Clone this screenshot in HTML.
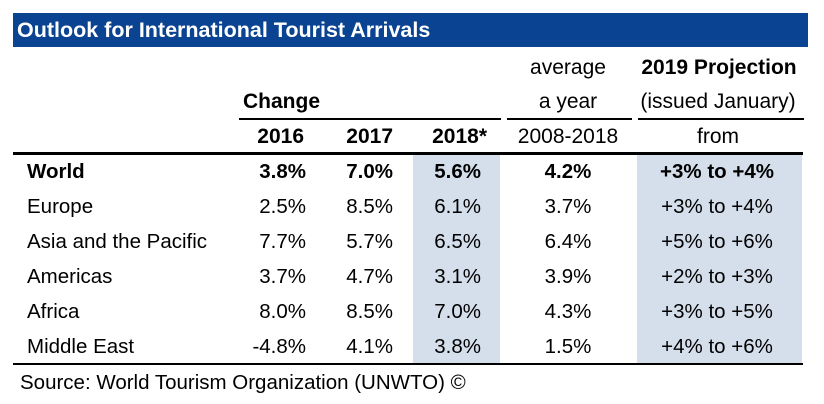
<!DOCTYPE html>
<html><head><meta charset="utf-8"><style>
body{margin:0;background:#fff;width:824px;height:404px;position:relative;overflow:hidden;font-family:"Liberation Sans",Arial,sans-serif;color:#000}
.a{position:absolute;white-space:nowrap;font-size:20.5px;line-height:22px}
.b{font-weight:bold}
.r{transform:translateX(-100%)}
.c{transform:translateX(-50%)}
.ln{position:absolute;background:#000}
.sh{position:absolute;background:#d5dfec}
</style></head><body>
<div style="position:absolute;left:13px;top:13px;width:795px;height:34px;background:#0a4391"></div>
<div class="a b" style="left:17px;top:18px;color:#fff;font-size:21.5px;line-height:24px">Outlook for International Tourist Arrivals</div>

<div class="sh" style="left:413px;top:155px;width:87px;height:208px"></div>
<div class="sh" style="left:637px;top:155px;width:165px;height:208px"></div>

<div class="a c" style="left:568px;top:57px;font-size:21px">average</div>
<div class="a b c" style="left:719px;top:57px;font-size:21px">2019 Projection</div>
<div class="a b" style="left:243px;top:91px;font-size:21px">Change</div>
<div class="a c" style="left:568px;top:91px;font-size:21px">a year</div>
<div class="a c" style="left:718px;top:91px;font-size:21px">(issued January)</div>
<div class="ln" style="left:239px;top:118px;width:262px;height:2px"></div>
<div class="ln" style="left:507px;top:118px;width:125px;height:2px"></div>
<div class="ln" style="left:638px;top:118px;width:166px;height:2px"></div>
<div class="a b r" style="left:304px;top:126px;font-size:21px">2016</div>
<div class="a b r" style="left:393px;top:126px;font-size:21px">2017</div>
<div class="a b r" style="left:487px;top:126px;font-size:21px">2018*</div>
<div class="a c" style="left:568px;top:126px;font-size:21px">2008-2018</div>
<div class="a c" style="left:718px;top:126px;font-size:21px">from</div>
<div class="ln" style="left:13px;top:152px;width:790px;height:3px"></div>
<div class="ln" style="left:13px;top:363px;width:790px;height:2px"></div>
<div class="a" style="left:20px;top:372px">Source: World Tourism Organization (UNWTO) ©</div>
<div id="rows"></div>
<script>
const regions=["World","Europe","Asia and the Pacific","Americas","Africa","Middle East"];
const v2016=["3.8%","2.5%","7.7%","3.7%","8.0%","-4.8%"];
const v2017=["7.0%","8.5%","5.7%","4.7%","8.5%","4.1%"];
const v2018=["5.6%","6.1%","6.5%","3.1%","7.0%","3.8%"];
const vAvg=["4.2%","3.7%","6.4%","3.9%","4.3%","1.5%"];
const vProj=["+3% to +4%","+3% to +4%","+5% to +6%","+2% to +3%","+3% to +5%","+4% to +6%"];
const host=document.getElementById('rows');
regions.forEach((r,i)=>{
  const top=161+i*35;
  const cells=[[r,27,'','region-label'],[v2016[i],306,'r','value-2016'],[v2017[i],393,'r','value-2017'],[v2018[i],481,'r','value-2018'],[vAvg[i],568,'c','value-average'],[vProj[i],717,'c','value-projection']];
  cells.forEach(([t,x,cls,nm])=>{
    const d=document.createElement('div');
    d.className='a '+cls+(i===0?' b':'');
    d.style.left=x+'px';d.style.top=top+'px';
    d.textContent=t;
    
    
    host.appendChild(d);
  });
});
</script>
</body></html>
